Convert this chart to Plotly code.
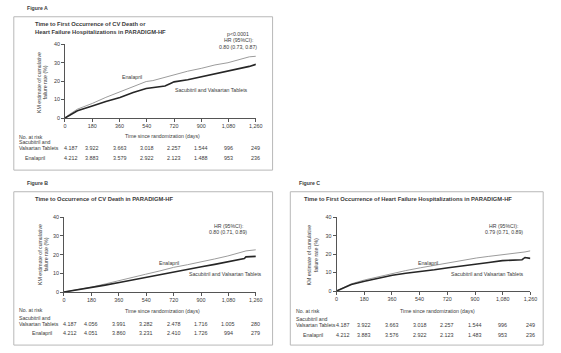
import plotly.graph_objects as go

W, H = 561, 353
FONT = "Liberation Sans Narrow, Arial Narrow, Liberation Sans, Arial, sans-serif"
TXT = "#3a3a3a"
FS = 5.2      # regular text size
FN = 5.4      # numbers
FT = 5.8      # bold titles

# ---------------- data ----------------
tick_days = [0, 180, 360, 540, 720, 900, 1080, 1260]
tick_labels = ["0", "180", "360", "540", "720", "900", "1,080", "1,260"]
y_ticks = [0, 10, 20, 30, 40]

# Figure A: CV death or HF hospitalization
a_days = [0, 30, 82, 180, 270, 363, 450, 536, 580, 622, 660, 700, 720, 810, 903, 990, 1076, 1150, 1217, 1260]
a_enal = [0, 2.0, 4.8, 7.9, 11.2, 14.1, 17.0, 19.8, 20.3, 21.2, 22.0, 23.0, 23.5, 25.4, 27.0, 28.8, 30.0, 31.5, 33.2, 33.5]
a_sac = [0, 1.6, 3.9, 6.5, 9.0, 11.1, 13.8, 16.0, 16.6, 16.8, 17.4, 18.9, 19.6, 20.8, 22.4, 24.0, 25.6, 26.8, 28.0, 29.1]
a_risk_sac = ["4.187", "3.922", "3.663", "3.018", "2.257", "1.544", "996", "249"]
a_risk_enal = ["4.212", "3.883", "3.579", "2.922", "2.123", "1.488", "953", "236"]

# Figure B: CV death
b_days = [0, 90, 180, 270, 363, 450, 536, 630, 720, 810, 903, 990, 1076, 1184, 1195, 1260]
b_enal = [0, 1.2, 2.6, 4.3, 6.0, 7.8, 9.5, 11.3, 13.2, 14.6, 16.1, 17.7, 19.3, 21.8, 22.0, 22.6]
b_sac = [0, 1.1, 2.3, 3.7, 5.1, 6.5, 7.9, 9.4, 10.9, 12.2, 13.5, 14.8, 16.1, 17.9, 18.8, 19.1]
b_risk_sac = ["4.187", "4.056", "3.991", "3.282", "2.478", "1.716", "1.005", "280"]
b_risk_enal = ["4.212", "4.051", "3.860", "3.231", "2.410", "1.726", "994", "279"]

# Figure C: HF hospitalization
c_days = [0, 96, 182, 270, 363, 450, 545, 636, 726, 817, 908, 990, 1078, 1190, 1206, 1225, 1260]
c_enal = [0, 3.9, 6.0, 7.8, 9.6, 11.1, 12.6, 14.0, 15.3, 16.6, 17.9, 18.8, 19.6, 20.6, 20.9, 21.2, 21.8]
c_sac = [0, 3.5, 5.3, 7.0, 8.6, 9.6, 10.4, 11.5, 12.6, 13.5, 14.4, 15.5, 16.5, 16.9, 17.0, 18.2, 17.7]
c_risk_sac = ["4.187", "3.922", "3.663", "3.018", "2.257", "1.544", "996", "249"]
c_risk_enal = ["4.212", "3.883", "3.576", "2.922", "2.123", "1.483", "953", "236"]

# ---------------- helpers ----------------
def px(x):
    return x / W

def py(y):
    return 1 - y / H

fig = go.Figure()
annotations = []
shapes = []

def ann(text, x, y, size=FS, xanchor="left", bold=False, color=TXT, **kw):
    if bold:
        text = "<b>" + text + "</b>"
    annotations.append(dict(text=text, x=px(x), y=py(y), xref="paper", yref="paper",
                            xanchor=xanchor, yanchor="middle", showarrow=False,
                            font=dict(size=size, color=color, family=FONT), **kw))

panels = [
    dict(key="", days=a_days, enal=a_enal, sac=a_sac, rs=a_risk_sac, re=a_risk_enal,
         x0=64, x1=258, y0=117, y1=42, yr1=148, yr2=158),
    dict(key="2", days=b_days, enal=b_enal, sac=b_sac, rs=b_risk_sac, re=b_risk_enal,
         x0=63, x1=258, y0=294, y1=218, yr1=327, yr2=336),
    dict(key="3", days=c_days, enal=c_enal, sac=c_sac, rs=c_risk_sac, re=c_risk_enal,
         x0=340, x1=537, y0=293, y1=218, yr1=328, yr2=338),
]

layout_axes = {}
for p in panels:
    k = p["key"]
    xa = "x" + k
    ya = "y" + k
    fig.add_trace(go.Scatter(x=p["days"], y=p["enal"], mode="lines", xaxis=xa, yaxis=ya,
                             line=dict(color="#9c9c9c", width=1), showlegend=False, hoverinfo="skip"))
    fig.add_trace(go.Scatter(x=p["days"], y=p["sac"], mode="lines", xaxis=xa, yaxis=ya,
                             line=dict(color="#262626", width=1.6), showlegend=False, hoverinfo="skip"))
    axcommon = dict(showline=True, linecolor="#555", linewidth=1, ticks="outside", ticklen=3,
                    tickcolor="#555", tickwidth=1, showgrid=False, zeroline=False,
                    tickfont=dict(size=FN, color=TXT, family=FONT))
    layout_axes["xaxis" + k] = dict(axcommon, domain=[px(p["x0"]), px(p["x1"])], range=[0, 1260],
                                    tickvals=tick_days, ticktext=tick_labels, anchor=ya)
    layout_axes["yaxis" + k] = dict(axcommon, domain=[py(p["y0"]), py(p["y1"])], range=[0, 40],
                                    tickvals=y_ticks, anchor=xa)
    # risk table values, placed under the x-axis ticks
    for i, (t, s, e) in enumerate(zip(tick_days, p["rs"], p["re"])):
        for val, yy in ((s, p["yr1"]), (e, p["yr2"])):
            annotations.append(dict(text=val, x=t, y=py(yy), xref=xa, yref="paper",
                                    xanchor="center", yanchor="middle", showarrow=False,
                                    xshift=6 if i == 0 else 0,
                                    font=dict(size=FN, color=TXT, family=FONT)))

# ---------------- boxes ----------------
for (x0, y0, x1, y1) in [(12, 14, 275, 170), (12, 192, 275, 348), (293, 192, 550, 348)]:
    shapes.append(dict(type="rect", xref="paper", yref="paper", x0=px(x0), x1=px(x1),
                       y0=py(y1), y1=py(y0), line=dict(color="#b8b8b8", width=1)))

# ---------------- text ----------------
ann("Figure A", 23, 5, size=FS, bold=True)
ann("Figure B", 23, 183, size=FS, bold=True)
ann("Figure C", 300, 183, size=FS, bold=True)

ann("Time to First Occurrence of CV Death or", 31, 21, size=FT, bold=True)
ann("Heart Failure Hospitalizations in PARADIGM-HF", 31, 29, size=FT, bold=True)
ann("Time to Occurrence of CV Death in PARADIGM-HF", 31, 199, size=FT, bold=True)
ann("Time to First Occurrence of Heart Failure Hospitalizations in PARADIGM-HF", 305, 199, size=FT, bold=True)

ytitle = "KM estimate of cumulative<br>failure rate (%)"
ann(ytitle, 41, 81, size=FS, xanchor="center", textangle=-90)
ann(ytitle, 42, 256, size=FS, xanchor="center", textangle=-90)
ann(ytitle, 316, 256, size=FS, xanchor="center", textangle=-90)

ann("Time since randomization (days)", 163, 135, xanchor="center")
ann("Time since randomization (days)", 163, 313, xanchor="center")
ann("Time since randomization (days)", 443, 313, xanchor="center")

# in-plot labels
ann("p&lt;0.0001", 240, 32, xanchor="center")
ann("HR (95%CI):", 240, 38, xanchor="center")
ann("0.80 (0.73, 0.87)", 240, 45, xanchor="center")
ann("Enalapril", 132, 75, xanchor="center")
ann("Sacubitril and Valsartan Tablets", 213, 89, xanchor="center")

ann("HR (95%CI):", 230, 227, xanchor="center")
ann("0.80 (0.71, 0.89)", 230, 233, xanchor="center")
ann("Enalapril", 170, 264, xanchor="center")
ann("Sacubitril and Valsartan Tablets", 227, 276, xanchor="center")

ann("HR (95%CI):", 510, 227, xanchor="center")
ann("0.79 (0.71, 0.89)", 510, 233, xanchor="center")
ann("Enalapril", 433, 264, xanchor="center")
ann("Sacubitril and Valsartan Tablets", 493, 276, xanchor="center")

# risk table row labels
for (lx, ex, p, ytop) in [(15, 46, panels[0], 136), (15, 53, panels[1], 312), (297, 328, panels[2], 313)]:
    ann("No. at risk", lx, ytop)
    ann("Sacubitril and", lx, p["yr1"] - 6.5)
    ann("Valsartan Tablets", lx, p["yr1"])
    ann("Enalapril", ex, p["yr2"], xanchor="right")

fig.update_layout(width=W, height=H, margin=dict(l=0, r=0, t=0, b=0),
                  paper_bgcolor="white", plot_bgcolor="white",
                  annotations=annotations, shapes=shapes, **layout_axes)
fig.write_html("out.html")
